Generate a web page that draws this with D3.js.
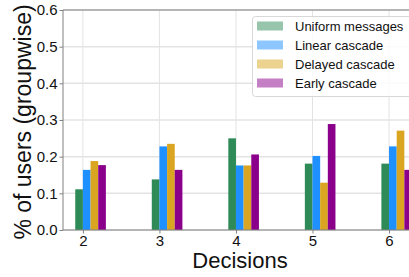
<!DOCTYPE html>
<html>
<head>
<meta charset="utf-8">
<script src="https://cdn.jsdelivr.net/npm/d3@7"></script>
<style>
  body { margin: 0; background: #fff; }
  svg { display: block; font-family: "Liberation Sans", Arial, sans-serif; }
</style>
</head>
<body>
<div id="chart"></div>
<script>
// data
const decisions = [2, 3, 4, 5, 6];
const seriesNames = ['Uniform messages', 'Linear cascade', 'Delayed cascade', 'Early cascade'];
const uniform = [0.111, 0.138, 0.250, 0.181, 0.181];
const linear = [0.164, 0.228, 0.176, 0.202, 0.228];
const delayed = [0.188, 0.235, 0.176, 0.129, 0.271];
const early = [0.177, 0.164, 0.206, 0.289, 0.164];
const yTicks = [0.0, 0.1, 0.2, 0.3, 0.4, 0.5, 0.6];
const colors = ['#2e8b57', '#1e90ff', '#daa520', '#8b008b'];

const series = [uniform, linear, delayed, early];

const width = 409, height = 277;
const plotLeft = 63, plotTop = 10, plotBottom = 230;
const barWidth = 0.1;

const svg = d3.select('#chart')
  .append('svg')
  .attr('width', width)
  .attr('height', height);

const xScale = d3.scaleLinear()
  .domain([1.74, 6.3])
  .range([plotLeft, 412]);

const yScale = d3.scaleLinear()
  .domain([0, 0.6])
  .range([plotBottom, plotTop]);

// grid
let grid = svg.append('g');
grid.append('g').selectAll('line')
  .data(yTicks)
  .join('line')
  .attr('x1', plotLeft).attr('x2', width)
  .attr('y1', d => yScale(d)).attr('y2', d => yScale(d))
  .attr('stroke', '#e3e3e3')
  .attr('stroke-width', 1.5);
grid.append('g').selectAll('line')
  .data(decisions)
  .join('line')
  .attr('x1', d => xScale(d)).attr('x2', d => xScale(d))
  .attr('y1', plotTop).attr('y2', plotBottom)
  .attr('stroke', '#e3e3e3')
  .attr('stroke-width', 1);

// bars, each series shifted by one bar width
for (let i = 0; i < series.length; i++) {
  svg.append('g')
    .selectAll('rect')
    .data(decisions)
    .join('rect')
    .attr('x', d => xScale(d + (i - 1) * barWidth))
    .attr('width', d => xScale(d + barWidth) - xScale(d))
    .attr('y', (d, j) => yScale(series[i][j]))
    .attr('height', (d, j) => plotBottom - yScale(series[i][j]))
    .attr('fill', colors[i]);
}

// axes
const xAxis = d3.axisBottom(xScale).tickValues(decisions).tickSize(3.5).tickPadding(2).tickFormat(d3.format('d'));
const yAxis = d3.axisLeft(yScale).tickValues(yTicks).tickSize(3.5).tickPadding(2).tickFormat(d3.format('.1f'));

let gx = svg.append('g')
  .attr('transform', `translate(0,${plotBottom})`)
  .call(xAxis);
let gy = svg.append('g')
  .attr('transform', `translate(${plotLeft},0)`)
  .call(yAxis);

[gx, gy].forEach(g => {
  g.select('.domain').remove();
  g.selectAll('.tick line').attr('stroke', '#808080');
  g.selectAll('.tick text')
    .attr('fill', '#111')
    .style('font-size', '15px')
    .style('font-family', '"Liberation Sans", Arial, sans-serif');
});

// spines
svg.append('line')
  .attr('x1', plotLeft).attr('x2', plotLeft).attr('y1', plotTop).attr('y2', plotBottom)
  .attr('stroke', '#808080');
svg.append('line')
  .attr('x1', plotLeft).attr('x2', width).attr('y1', plotBottom).attr('y2', plotBottom)
  .attr('stroke', '#808080');
svg.append('line')
  .attr('x1', plotLeft).attr('x2', width).attr('y1', plotTop).attr('y2', plotTop)
  .attr('stroke', '#808080');

// axis titles
svg.append('text')
  .attr('x', 240)
  .attr('y', 268)
  .attr('text-anchor', 'middle')
  .style('font-size', '22px')
  .attr('fill', '#111')
  .text('Decisions');

svg.append('text')
  .attr('transform', `translate(31,${(plotTop + plotBottom) / 2 + 2}) rotate(-90)`)
  .attr('text-anchor', 'middle')
  .style('font-size', '23px')
  .attr('fill', '#111')
  .text('% of users (groupwise)');

// legend
let legend = svg.append('g');
legend.append('rect')
  .attr('x', 252.5).attr('y', 16.5)
  .attr('width', 160).attr('height', 80)
  .attr('rx', 3)
  .attr('fill', '#fff')
  .attr('fill-opacity', 0.85)
  .attr('stroke', '#d8d8d8');

seriesNames.forEach((name, i) => {
  let y = 26 + i * 19;
  legend.append('rect')
    .attr('x', 257).attr('y', y - 4.5)
    .attr('width', 26).attr('height', 9)
    .attr('fill', colors[i])
    .attr('fill-opacity', 0.5);
  legend.append('text')
    .attr('x', 295).attr('y', y)
    .attr('dy', '0.35em')
    .style('font-size', '13px')
    .attr('fill', '#111')
    .text(name);
});
</script>
</body>
</html>
